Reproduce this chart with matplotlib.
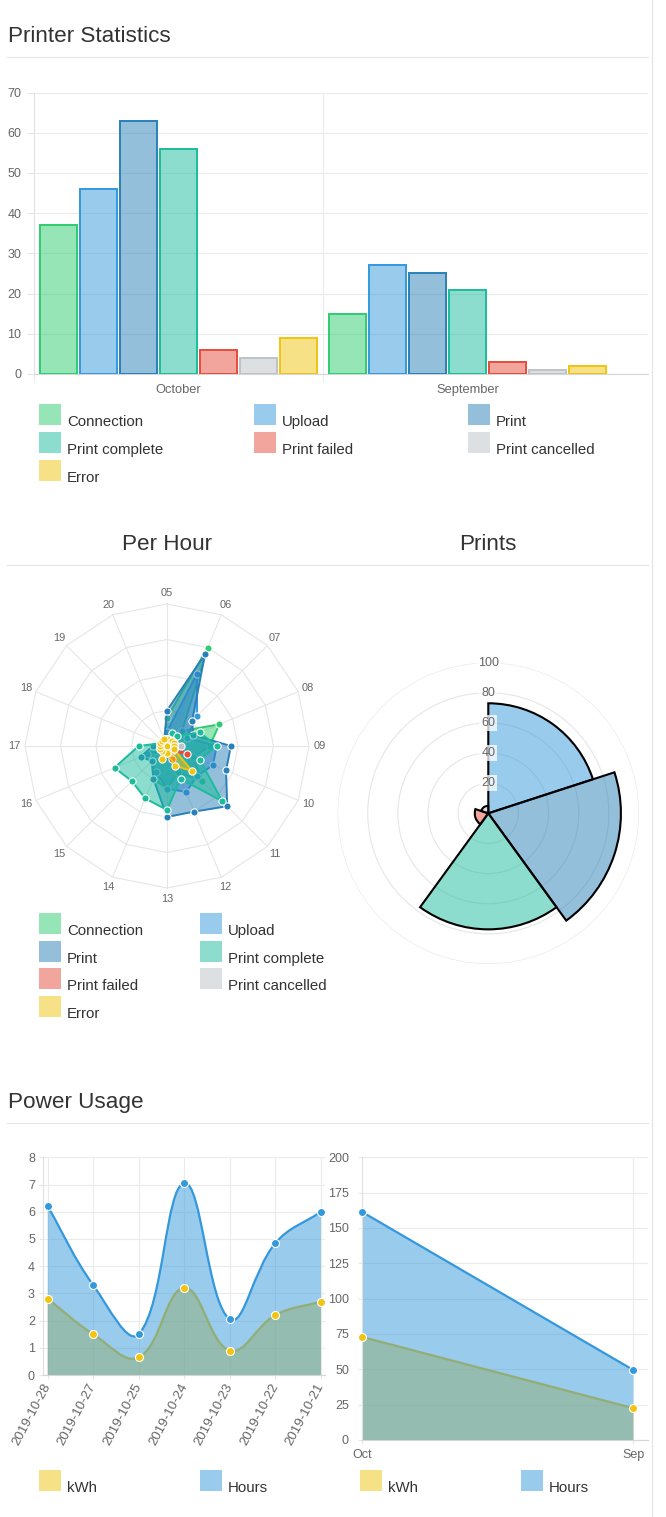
import numpy as np
import matplotlib
matplotlib.use('Agg')
import matplotlib.pyplot as plt
from matplotlib.colors import to_rgba
from matplotlib.patches import Rectangle, PathPatch
from matplotlib.path import Path
from matplotlib.lines import Line2D

plt.rcParams['font.family'] = ['Liberation Sans', 'DejaVu Sans']

W, H = 666, 1517

# ---- data ----
series_names = ['Connection', 'Upload', 'Print', 'Print complete', 'Print failed', 'Print cancelled', 'Error']
series_colors = ['#2ecc71', '#3498db', '#2980b9', '#1abc9c', '#e74c3c', '#bdc3c7', '#f1c40f']
months = ['October', 'September']
oct_counts = [37, 46, 63, 56, 6, 4, 9]
sep_counts = [15, 27, 25, 21, 3, 1, 2]

hours = ['05', '06', '07', '08', '09', '10', '11', '12', '13', '14', '15', '16', '17', '18', '19', '20']
hour_connection = [4, 15, 3, 8, 6, 4, 7, 4, 6, 5, 3, 2, 1, 1, 0, 1]
hour_upload = [2, 11, 6, 3, 7, 7, 6, 7, 6, 4, 3, 3, 1, 1, 0, 1]
hour_print = [5, 14, 5, 4, 9, 9, 12, 10, 10, 5, 3, 4, 2, 1, 0, 1]
hour_complete = [1, 2, 2, 5, 7, 5, 11, 5, 9, 8, 7, 8, 4, 1, 1, 1]
hour_failed = [0, 0, 1, 1, 1, 3, 1, 2, 1, 0, 0, 0, 0, 0, 0, 0]
hour_cancelled = [1, 0, 1, 1, 2, 1, 1, 0, 0, 1, 0, 1, 1, 0, 0, 0]
hour_error = [1, 0, 1, 1, 1, 1, 5, 3, 1, 2, 1, 1, 1, 1, 1, 1]

prints_labels = ['Upload', 'Print', 'Print complete', 'Print failed', 'Print cancelled']
prints_totals = [73, 88, 77, 9, 5]

days = ['2019-10-28', '2019-10-27', '2019-10-25', '2019-10-24', '2019-10-23', '2019-10-22', '2019-10-21']
day_kwh = [2.8, 1.5, 0.65, 3.2, 0.9, 2.2, 2.7]
day_hours = [6.2, 3.3, 1.5, 7.05, 2.05, 4.85, 6.0]
month_short = ['Oct', 'Sep']
month_kwh = [73, 22.5]
month_hours = [161.5, 49.5]

KWH_COLOR = '#f1c40f'
HOURS_COLOR = '#3498db'
GRID = '#ebebeb'
TICK = '#666666'

fig = plt.figure(figsize=(W / 100, H / 100), dpi=100)


def px_axes(left, top, right, bottom, **kw):
    return fig.add_axes([left / W, 1 - bottom / H, (right - left) / W, (bottom - top) / H], **kw)


def fig_rect(x, y, w, h, color):
    fig.add_artist(Rectangle((x / W, 1 - (y + h) / H), w / W, h / H,
                             transform=fig.transFigure, facecolor=color, edgecolor='none'))


def fig_hline(y, x0=7, x1=648):
    fig.add_artist(Line2D([x0 / W, x1 / W], [1 - y / H, 1 - y / H], transform=fig.transFigure,
                          color='#e5e5e5', lw=0.8))


def legend_item(x, y, name, color):
    fig_rect(x, y, 22, 21, to_rgba(color, 0.5))
    fig.text((x + 28) / W, 1 - (y + 22) / H, name, fontsize=10.8, color='#333333', va='baseline')


def style_axes(ax, pad, ticklen=2.9):
    for s in ['top', 'right']:
        ax.spines[s].set_visible(False)
    ax.spines['left'].set_color('#e0e0e0')
    ax.spines['bottom'].set_color('#d6d6d6')
    ax.tick_params(axis='both', colors='#e6e6e6', labelcolor=TICK, labelsize=9, length=ticklen)
    ax.tick_params(axis='y', pad=pad)
    ax.grid(True, color=GRID, lw=0.8)
    ax.set_axisbelow(True)


# right border of the page container
fig.add_artist(Line2D([651.5 / W, 651.5 / W], [0, 1], transform=fig.transFigure, color='#e3e3e3', lw=0.8))

# ---- Printer Statistics ----
fig.text(8 / W, 1 - 42 / H, 'Printer Statistics', fontsize=16.2, color='#333333', va='baseline')
fig_hline(56.5)

ax = px_axes(34, 92.5, 648, 374)
ax.set_xlim(-0.5, -0.5 + 614 / 289)
ax.set_ylim(0, 70)
slot = 0.138
for i, (name, c) in enumerate(zip(series_names, series_colors)):
    vals = [oct_counts[i], sep_counts[i]]
    ax.bar(np.arange(2) + (i - 3) * slot, vals, width=0.128, facecolor=to_rgba(c, 0.5),
           edgecolor=c, linewidth=1.4, zorder=3)
style_axes(ax, pad=4.5, ticklen=4.7)
ax.grid(False)
ax.yaxis.grid(True, color=GRID, lw=0.8)
ax.axvline(0.5, color=GRID, lw=0.8, zorder=0)
ax.set_yticks(range(0, 71, 10))
ax.set_xticks([0, 1])
ax.set_xticklabels(months)
ax.set_xticks([-0.5, 0.5], minor=True)
ax.tick_params(axis='x', which='major', length=0, pad=7, labelsize=9.3)
ax.tick_params(axis='x', which='minor', length=5.8, color='#e6e6e6')

leg_cols = [39, 254, 468]
leg_rows = [404, 432, 460]
for i, (name, c) in enumerate(zip(series_names, series_colors)):
    legend_item(leg_cols[i % 3], leg_rows[i // 3], name, c)

# ---- Per Hour / Prints ----
fig.text(167 / W, 1 - 550 / H, 'Per Hour', fontsize=16.2, color='#333333', va='baseline', ha='center')
fig.text(488 / W, 1 - 550 / H, 'Prints', fontsize=16.2, color='#333333', va='baseline', ha='center')
fig_hline(565)

rmax = 20
unit = 142 / rmax
half = 165
rax = px_axes(167 - half, 746 - half, 167 + half, 746 + half)
lim = half / unit
rax.set_xlim(-lim, lim)
rax.set_ylim(-lim, lim)
rax.axis('off')
theta = 2 * np.pi * np.arange(len(hours)) / len(hours)
tc = np.append(theta, theta[0])
for k in [5, 10, 15, 20]:
    rax.plot(k * np.sin(tc), k * np.cos(tc), color='#e6e6e6', lw=0.8, zorder=0)
for t in theta:
    rax.plot([0, rmax * np.sin(t)], [0, rmax * np.cos(t)], color='#e6e6e6', lw=0.8, zorder=0)
for lab, t in zip(hours, theta):
    rax.text(21.5 * np.sin(t), 21.5 * np.cos(t), lab, ha='center', va='center', fontsize=7.9, color=TICK)

hour_series = [hour_connection, hour_upload, hour_print, hour_complete, hour_failed, hour_cancelled, hour_error]
for z, (vals, c) in enumerate(zip(hour_series, series_colors)):
    v = np.array(vals + vals[:1], dtype=float)
    xs, ys = v * np.sin(tc), v * np.cos(tc)
    rax.fill(xs, ys, facecolor=to_rgba(c, 0.5), edgecolor='none', zorder=2 + z)
    rax.plot(xs, ys, color=c, lw=1.4, zorder=2 + z)
    rax.plot(xs[:-1], ys[:-1], 'o', ms=5.2, mfc=c, mec='white', mew=0.8, zorder=2 + z)

radar_cols = [39, 200]
radar_rows = [913, 941, 968, 996]
for i, (name, c) in enumerate(zip(series_names, series_colors)):
    legend_item(radar_cols[i % 2], radar_rows[i // 2], name, c)

pcx, pcy, pr = 488.3, 813.3, 150.7
pax = px_axes(pcx - pr, pcy - pr, pcx + pr, pcy + pr, projection='polar')
pax.set_theta_zero_location('N')
pax.set_theta_direction(-1)
pax.set_ylim(0, 100)
pax.set_yticks([20, 40, 60, 80, 100])
pax.set_yticklabels([])
pax.set_xticks([])
pax.spines['polar'].set_visible(False)
pax.grid(True, color='#e6e6e6', lw=0.8)
pax.set_axisbelow(True)
seg = 2 * np.pi / len(prints_totals)
seg_colors = [series_colors[series_names.index(n)] for n in prints_labels]
pax.bar(np.arange(len(prints_totals)) * seg, prints_totals, width=seg, align='edge',
        color=[to_rgba(c, 0.5) for c in seg_colors], edgecolor='black', linewidth=1.5, zorder=3)
for v in [20, 40, 60, 80, 100]:
    pax.text(0, v, str(v), ha='center', va='center', fontsize=9, color=TICK, zorder=6,
             bbox=dict(boxstyle='square,pad=0.15', fc=(1, 1, 1, 0.75), ec='none'))


# ---- Power Usage ----
fig.text(8 / W, 1 - 1108 / H, 'Power Usage', fontsize=16.2, color='#333333', va='baseline')
fig_hline(1122.5)


def smooth(ax, xs, ys, t=0.4):
    pts = ax.transData.transform(np.column_stack([xs, ys]))
    n = len(pts)
    cp, cn = [], []
    for i in range(n):
        p, c, nx = pts[max(i - 1, 0)], pts[i], pts[min(i + 1, n - 1)]
        d01, d12 = np.hypot(*(c - p)), np.hypot(*(nx - c))
        s = d01 + d12
        fa, fb = t * d01 / s, t * d12 / s
        cp.append(c - fa * (nx - p))
        cn.append(c + fb * (nx - p))
    verts, codes = [pts[0]], [Path.MOVETO]
    for i in range(1, n):
        verts += [cn[i - 1], cp[i], pts[i]]
        codes += [Path.CURVE4] * 3
    return ax.transData.inverted().transform(np.array(verts)), codes


axl = px_axes(42.7, 1157.3, 325, 1375)
axl.set_xlim(-0.11, 6.088)
axl.set_ylim(0, 8)
style_axes(axl, pad=2.7)
x = np.arange(len(days))
for vals, c in [(day_kwh, KWH_COLOR), (day_hours, HOURS_COLOR)]:
    verts, codes = smooth(axl, x, vals)
    fv = np.vstack([verts, [[x[-1], 0], [x[0], 0], verts[0]]])
    fc = codes + [Path.LINETO, Path.LINETO, Path.CLOSEPOLY]
    axl.add_patch(PathPatch(Path(fv, fc), facecolor=to_rgba(c, 0.5), edgecolor='none', zorder=2))
    axl.add_patch(PathPatch(Path(verts, codes), fill=False, edgecolor=c, lw=1.6, zorder=2))
    axl.plot(x, vals, 'o', ms=5.8, mfc=c, mec='white', mew=0.8, zorder=3, clip_on=False)
axl.set_xticks(x)
axl.set_xticklabels(days, rotation=62, ha='right', va='center', rotation_mode='anchor')
axl.tick_params(axis='x', pad=3.5, labelsize=9.6)
axl.set_yticks(range(0, 9))

axr = px_axes(361.7, 1157.3, 648, 1440)
axr.set_xlim(0, 1.054)
axr.set_ylim(0, 200)
style_axes(axr, pad=6.3)
xm = np.arange(len(month_short))
for vals, c in [(month_kwh, KWH_COLOR), (month_hours, HOURS_COLOR)]:
    axr.fill_between(xm, vals, facecolor=to_rgba(c, 0.5), edgecolor='none', zorder=2)
    axr.plot(xm, vals, color=c, lw=1.6, zorder=2)
    axr.plot(xm, vals, 'o', ms=5.8, mfc=c, mec='white', mew=0.8, zorder=3, clip_on=False)
axr.set_xticks(xm)
axr.set_xticklabels(month_short)
axr.tick_params(axis='x', pad=3.5)
axr.set_yticks(range(0, 201, 25))

for xx, name, c in [(39, 'kWh', KWH_COLOR), (200, 'Hours', HOURS_COLOR),
                    (360, 'kWh', KWH_COLOR), (521, 'Hours', HOURS_COLOR)]:
    legend_item(xx, 1470, name, c)

fig.savefig('out.png', dpi=100, facecolor='white')
